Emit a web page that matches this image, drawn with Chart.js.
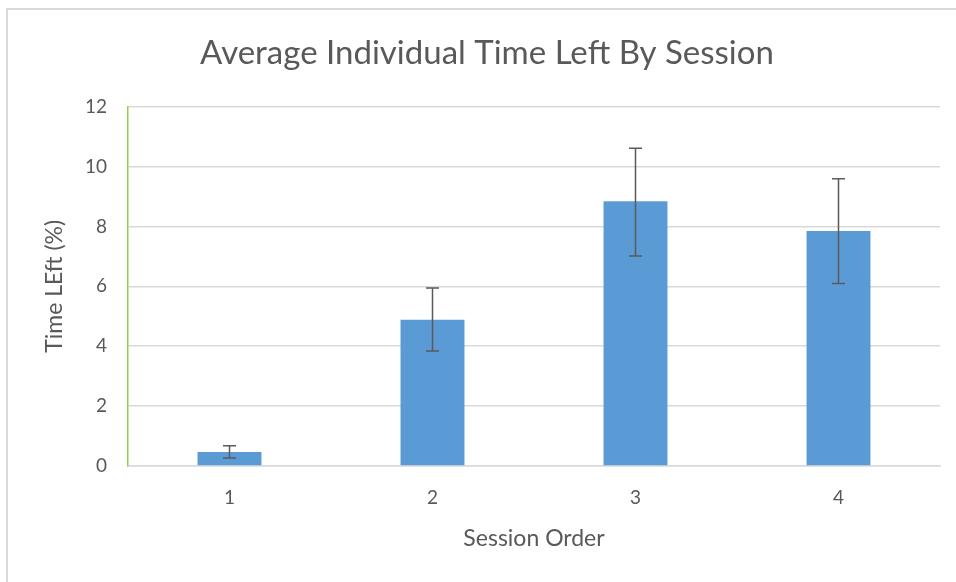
<!DOCTYPE html>
<html>
<head>
<meta charset="utf-8">
<script src="https://cdn.jsdelivr.net/npm/chart.js@4/dist/chart.umd.min.js"></script>
<style>
  html, body { margin: 0; padding: 0; background: #fff; }
  #wrap { width: 956px; height: 582px; position: relative; }
</style>
</head>
<body>
<div id="wrap"><canvas id="c" width="956" height="582"></canvas></div>
<script>
// Session order categories and mean time left (%)
const sessions = ['1', '2', '3', '4'];
const timeLeft = [0.47, 4.88, 8.84, 7.85];
// Error bar half-widths (upper / lower) around each mean
const errUpper = [0.21, 1.06, 1.77, 1.74];
const errLower = [0.20, 1.04, 1.83, 1.76];
const yTicks = [0, 2, 4, 6, 8, 10, 12];

const textColor = '#595959';
const fontFamily = 'Lato, "Open Sans", sans-serif';

// Draws vertical error bars with caps at each bar
const errorBars = {
  id: 'errorBars',
  afterDatasetsDraw(chart) {
    const { ctx, scales: { x, y } } = chart;
    ctx.save();
    ctx.strokeStyle = '#5a5a5a';
    ctx.lineWidth = 1.5;
    timeLeft.forEach((v, i) => {
      const cx = x.getPixelForValue(i);
      const top = y.getPixelForValue(v + errUpper[i]);
      const bot = y.getPixelForValue(v - errLower[i]);
      const cap = 6.5;
      ctx.beginPath();
      ctx.moveTo(cx, top); ctx.lineTo(cx, bot);
      ctx.moveTo(cx - cap, top); ctx.lineTo(cx + cap, top);
      ctx.moveTo(cx - cap, bot); ctx.lineTo(cx + cap, bot);
      ctx.stroke();
    });
    ctx.restore();
  }
};

// Light frame along the top and left edges of the chart
const frame = {
  id: 'frame',
  beforeDraw(chart) {
    const { ctx } = chart;
    ctx.save();
    ctx.fillStyle = '#d9d9d9';
    ctx.fillRect(6, 8, 950, 2);
    ctx.fillRect(6, 8, 2, 574);
    ctx.restore();
  }
};

new Chart(document.getElementById('c'), {
  type: 'bar',
  data: {
    labels: sessions,
    datasets: [{
      data: timeLeft,
      backgroundColor: '#5b9bd5',
      borderWidth: 0,
      barPercentage: 0.63,
      categoryPercentage: 0.5
    }]
  },
  options: {
    responsive: false,
    animation: false,
    layout: { padding: { left: 34, top: 8, right: 16, bottom: 0 } },
    plugins: {
      legend: { display: false },
      tooltip: { enabled: false },
      title: {
        display: true,
        text: 'Average Individual Time Left By Session',
        color: textColor,
        font: { family: fontFamily, size: 33, weight: '400' },
        padding: { top: 26, bottom: 33 }
      }
    },
    scales: {
      x: {
        grid: { display: false, drawTicks: false },
        border: { display: true, color: '#d9d9d9', width: 1.5 },
        ticks: { color: textColor, font: { family: fontFamily, size: 19 }, padding: 20 },
        title: {
          display: true, text: 'Session Order', color: textColor,
          font: { family: fontFamily, size: 23 }, padding: { top: 0, bottom: 30 }
        },
        afterFit(scale) { scale.height = 116; }
      },
      y: {
        min: 0, max: 12,
        afterBuildTicks(scale) { scale.ticks = yTicks.map(v => ({ value: v })); },
        grid: { color: '#d9d9d9', lineWidth: 1.5, drawTicks: false },
        border: { display: true, color: '#92d050', width: 1.5 },
        ticks: { color: textColor, font: { family: fontFamily, size: 19 }, padding: 21 },
        title: {
          display: true, text: 'Time LEft (%)', color: textColor,
          font: { family: fontFamily, size: 23 }, padding: { top: 7, bottom: 0 }
        },
        afterFit(scale) { scale.width = 94; }
      }
    }
  },
  plugins: [frame, errorBars]
});
</script>
</body>
</html>
